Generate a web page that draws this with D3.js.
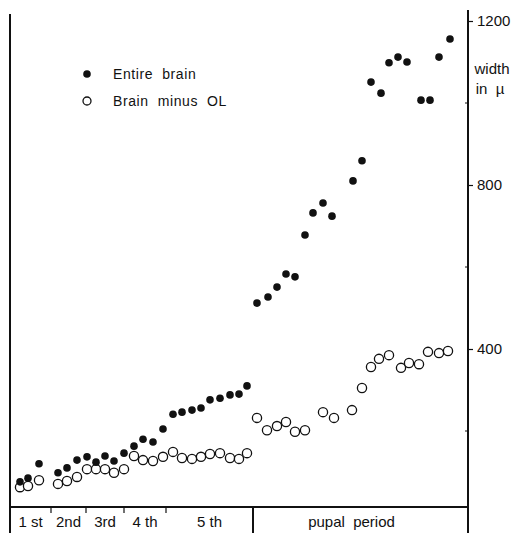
<!DOCTYPE html>
<html>
<head>
<meta charset="utf-8">
<script src="https://cdn.jsdelivr.net/npm/d3@7"></script>
<style>
  body { margin: 0; background: #fff; }
  svg text { font-family: "Liberation Sans", Arial, sans-serif; fill: #111; }
</style>
</head>
<body>
<div id="chart"></div>
<script>
// age along the horizontal axis (arbitrary units)
const larvalAge = [1.0, 1.8, 2.9, 4.8, 5.7, 6.7, 7.7, 8.6, 9.5, 10.4, 11.4, 12.4,
    13.3, 14.3, 15.3, 16.3, 17.2, 18.2, 19.1, 20.0, 21.0, 22.0, 22.9, 23.7];
const larvalEntire = [76, 85, 120, 98, 110, 129, 137, 124, 139, 127, 146, 163,
    180, 173, 205, 241, 246, 251, 256, 276, 280, 288, 290, 310];
const larvalMinusOL = [63, 66, 80, 71, 78, 88, 107, 107, 107, 98, 107, 139,
    129, 127, 137, 149, 134, 132, 137, 144, 146, 134, 132, 146];

const pupalAgeEntire = [24.7, 25.8, 26.7, 27.6, 28.5, 29.5, 30.3, 31.3, 32.2, 34.3,
    35.2, 36.1, 37.1, 37.9, 38.8, 39.7, 41.1, 42.0, 42.9, 44.0];
const pupalEntire = [512, 527, 551, 583, 576, 678, 732, 756, 724, 810,
    859, 1051, 1024, 1098, 1112, 1100, 1007, 1007, 1112, 1156];
const pupalAgeMinusOL = [24.7, 25.7, 26.7, 27.6, 28.5, 29.5, 31.3, 32.4, 34.2, 35.2,
    36.1, 36.9, 37.9, 39.1, 39.9, 40.9, 41.8, 42.9, 43.8];
const pupalMinusOL = [232, 202, 212, 222, 198, 202, 246, 232, 251, 305,
    356, 376, 385, 354, 366, 363, 393, 390, 395];

const stageNames = ["1 st", "2nd", "3rd", "4 th", "5 th", "pupal  period"];
const stageBounds = [0, 4.1, 7.6, 11.4, 15.6, 24.3, 45.8];
const yTicks = [400, 800, 1200];
const yMinor = [200, 600, 1000];

const width = 514, height = 533;
const left = 10, right = 468, bottom = 507;

const x = d3.scaleLinear().domain([0, 45.8]).range([left, right]);
const y = d3.scaleLinear().domain([0, 1200]).range([513, 21]);

const svg = d3.select("#chart").append("svg")
    .attr("width", width).attr("height", height);

const entire = larvalAge.map((a, i) => [a, larvalEntire[i]])
    .concat(pupalAgeEntire.map((a, i) => [a, pupalEntire[i]]));
const minusOL = larvalAge.map((a, i) => [a, larvalMinusOL[i]])
    .concat(pupalAgeMinusOL.map((a, i) => [a, pupalMinusOL[i]]));

// frame lines
svg.append("line").attr("x1", left).attr("x2", left).attr("y1", 14).attr("y2", height)
    .attr("stroke", "#111").attr("stroke-width", 2);
svg.append("line").attr("x1", right).attr("x2", right).attr("y1", 10).attr("y2", height)
    .attr("stroke", "#111").attr("stroke-width", 2);
svg.append("line").attr("x1", left).attr("x2", right).attr("y1", bottom).attr("y2", bottom)
    .attr("stroke", "#111").attr("stroke-width", 2);

// right axis
const axis = svg.append("g")
    .attr("transform", `translate(${right},0)`)
    .call(d3.axisRight(y).tickValues(yTicks).tickFormat(d3.format("d")).tickSize(5).tickPadding(4));
axis.select(".domain").remove();
axis.selectAll("line").attr("stroke", "#111").attr("stroke-width", 1.2);
axis.selectAll("text").attr("font-size", 15).style("font-family", "Liberation Sans, Arial, sans-serif");

svg.append("g").selectAll("line").data(yMinor).enter().append("line")
    .attr("x1", right - 3).attr("x2", right)
    .attr("y1", d => y(d)).attr("y2", d => y(d))
    .attr("stroke", "#111");

svg.append("text").attr("x", 492).attr("y", 74).attr("text-anchor", "middle")
    .attr("font-size", 15).text("width");
svg.append("text").attr("x", 490).attr("y", 94).attr("text-anchor", "middle")
    .attr("font-size", 15).attr("xml:space", "preserve").text("in  µ");

// stage dividers and labels
svg.append("g").selectAll("line").data(stageBounds.slice(1, -1)).enter().append("line")
    .attr("x1", d => x(d)).attr("x2", d => x(d))
    .attr("y1", bottom).attr("y2", (d, i) => i === 4 ? height : bottom + 6)
    .attr("stroke", "#111").attr("stroke-width", (d, i) => i === 4 ? 2 : 1.2);

svg.append("g").selectAll("text").data(stageNames).enter().append("text")
    .attr("x", (d, i) => (x(stageBounds[i]) + x(stageBounds[i + 1])) / 2 - (i === 5 ? 9 : 0))
    .attr("y", 527)
    .attr("text-anchor", "middle")
    .attr("font-size", 15)
    .attr("xml:space", "preserve")
    .text(d => d);

// points
svg.append("g").selectAll("circle").data(minusOL).enter().append("circle")
    .attr("cx", d => x(d[0])).attr("cy", d => y(d[1])).attr("r", 4.6)
    .attr("fill", "#fff").attr("stroke", "#111").attr("stroke-width", 1.3);

svg.append("g").selectAll("circle").data(entire).enter().append("circle")
    .attr("cx", d => x(d[0])).attr("cy", d => y(d[1])).attr("r", 3.8)
    .attr("fill", "#111");

// legend
const legend = svg.append("g");
legend.append("circle").attr("cx", 87).attr("cy", 74).attr("r", 3.8).attr("fill", "#111");
legend.append("circle").attr("cx", 87).attr("cy", 101).attr("r", 4).attr("fill", "#fff")
    .attr("stroke", "#111").attr("stroke-width", 1.3);
legend.append("text").attr("x", 113).attr("y", 79).attr("font-size", 14)
    .attr("letter-spacing", 0.6).attr("xml:space", "preserve").text("Entire  brain");
legend.append("text").attr("x", 113).attr("y", 106).attr("font-size", 14)
    .attr("letter-spacing", 0.6).attr("xml:space", "preserve").text("Brain  minus  OL");
</script>
</body>
</html>
